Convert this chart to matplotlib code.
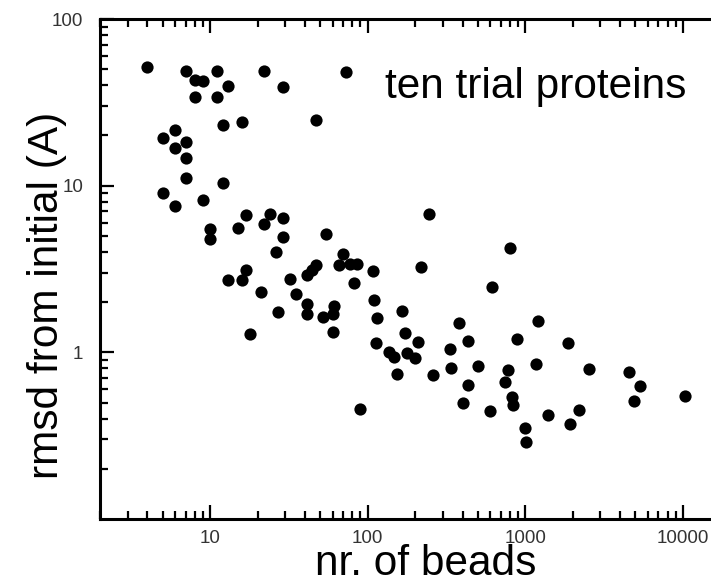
import matplotlib
matplotlib.use("Agg")
import matplotlib.pyplot as plt
from matplotlib.ticker import LogLocator, NullFormatter, FixedLocator, FixedFormatter

plt.rcParams['font.family'] = ['Liberation Sans', 'DejaVu Sans']

# number of beads
beads = [4, 7, 8, 9, 11, 22, 13, 29, 8, 11,
         12, 16, 6, 5, 7, 6, 7, 7, 12, 5,
         6, 9, 17, 24, 29, 15, 22, 10, 10, 29,
         26, 73, 47, 246, 54, 70, 17, 13, 16, 32,
         41, 21, 35, 41, 27, 41, 18, 47, 44, 66,
         77, 86, 108, 217, 82, 618, 61, 60, 52, 60,
         110, 114, 166, 113, 173, 209, 137, 146, 177, 200,
         153, 261, 378, 435, 333, 338, 504, 431, 405, 598,
         89, 802, 1200, 883, 1860, 781, 745, 1170, 2540, 4540,
         5370, 4920, 10300, 820, 834, 1390, 2180, 1920, 1000, 1007]

# rmsd from initial (A)
rmsd = [51.4, 49.0, 43.1, 42.7, 48.6, 48.6, 39.4, 39.0, 34.0, 34.0,
        23.0, 24.0, 21.6, 19.3, 18.2, 16.9, 14.7, 11.1, 10.4, 9.0,
        7.6, 8.2, 6.7, 6.8, 6.4, 5.6, 5.9, 5.5, 4.8, 4.9,
        4.0, 48.3, 24.7, 6.8, 5.1, 3.9, 3.1, 2.7, 2.7, 2.75,
        2.9, 2.3, 2.25, 1.94, 1.74, 1.69, 1.29, 3.32, 3.14, 3.32,
        3.41, 3.41, 3.07, 3.24, 2.59, 2.47, 1.89, 1.69, 1.62, 1.32,
        2.07, 1.60, 1.78, 1.13, 1.31, 1.15, 1.00, 0.94, 0.99, 0.93,
        0.74, 0.73, 1.51, 1.17, 1.04, 0.80, 0.83, 0.64, 0.50, 0.445,
        0.46, 4.2, 1.55, 1.21, 1.14, 0.78, 0.665, 0.855, 0.79, 0.76,
        0.63, 0.51, 0.55, 0.54, 0.48, 0.42, 0.45, 0.37, 0.35, 0.29]

x_ticks = [10, 100, 1000, 10000]
x_labels = ["10", "100", "1000", "10000"]
y_ticks = [1, 10, 100]
y_labels = ["1", "10", "100"]

fig = plt.figure(figsize=(7.11, 5.78), dpi=100)
ax = fig.add_axes([100/711, 1 - 519/578, 611/711, 500/578])

ax.plot(beads, rmsd, 'o', color='black', markersize=8.8, markeredgewidth=0)

ax.set_xscale('log')
ax.set_yscale('log')
ax.set_xlim(2.0, 15100)
ax.set_ylim(0.1, 100)

ax.xaxis.set_major_locator(FixedLocator(x_ticks))
ax.xaxis.set_major_formatter(FixedFormatter(x_labels))
ax.yaxis.set_major_locator(FixedLocator(y_ticks))
ax.yaxis.set_major_formatter(FixedFormatter(y_labels))
ax.xaxis.set_minor_locator(LogLocator(base=10, subs=range(2, 10), numticks=20))
ax.yaxis.set_minor_locator(LogLocator(base=10, subs=range(2, 10), numticks=20))
ax.xaxis.set_minor_formatter(NullFormatter())
ax.yaxis.set_minor_formatter(NullFormatter())

ax.spines['right'].set_visible(False)
for s in ['left', 'top', 'bottom']:
    ax.spines[s].set_linewidth(2.2)

ax.tick_params(which='both', direction='in', top=True, right=False,
               width=1.6, color='black')
ax.tick_params(which='major', length=10)
ax.tick_params(which='minor', length=6)
ax.tick_params(axis='x', which='major', pad=8, labelsize=13.5, labelcolor='#333333')
ax.tick_params(axis='y', which='major', pad=12, labelsize=13.5, labelcolor='#333333')

ax.text((385 - 100) / 611, (519 - 98) / 500, "ten trial proteins",
        transform=ax.transAxes, fontsize=30.5, ha='left', va='baseline')

fig.text(67/711, 1 - 295/578, "rmsd from initial (A)", rotation=90,
         fontsize=30.5, ha='right', va='center')
fig.text(426/711, 1 - 575/578, "nr. of beads", fontsize=30.5,
         ha='center', va='baseline')

fig.savefig("out.png", dpi=100)
